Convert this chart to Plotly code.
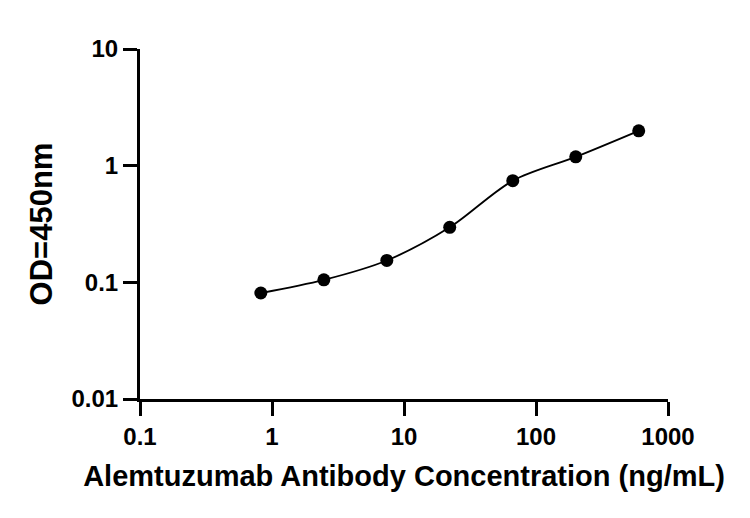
import plotly.graph_objects as go

# Concentration (ng/mL), 3-fold dilution series, and measured OD450
conc = [0.823, 2.47, 7.41, 22.2, 66.7, 200, 600]
od450 = [0.081, 0.105, 0.154, 0.296, 0.743, 1.19, 1.99]

x_ticks = [0.1, 1, 10, 100, 1000]
x_ticktext = ["0.1", "1", "10", "100", "1000"]
y_ticks = [0.01, 0.1, 1, 10]
y_ticktext = ["0.01", "0.1", "1", "10"]

FONT = "Liberation Sans, Arial, sans-serif"

fig = go.Figure()

# fitted curve (smooth line through the points)
fig.add_trace(go.Scatter(x=conc, y=od450, mode="lines",
                         line=dict(color="black", width=1.8, shape="spline", smoothing=0.9),
                         hoverinfo="skip"))
# data points
fig.add_trace(go.Scatter(x=conc, y=od450, mode="markers",
                         marker=dict(color="black", size=13)))

axis_common = dict(
    showline=True, linecolor="black", linewidth=3,
    ticks="outside", ticklen=14, tickwidth=3, tickcolor="black",
    showgrid=False, zeroline=False, automargin=False,
    tickfont=dict(family=FONT, size=24, color="black", weight="bold"),
)

fig.update_xaxes(type="log", range=[-1, 3], tickvals=x_ticks, ticktext=x_ticktext,
                 title=dict(text="Alemtuzumab Antibody Concentration (ng/mL)",
                            font=dict(family=FONT, size=29, color="black", weight="bold"),
                            standoff=17),
                 **axis_common)
fig.update_yaxes(type="log", range=[-2, 1], tickvals=y_ticks, ticktext=y_ticktext,
                 title=dict(text="OD=450nm",
                            font=dict(family=FONT, size=31, color="black", weight="bold"),
                            standoff=10),
                 **axis_common)

# page body adds an 8px offset, so the figure is sized 8px smaller
fig.update_layout(
    width=742, height=510,
    margin=dict(l=132, r=82, t=41, b=119),
    plot_bgcolor="white", paper_bgcolor="white",
    showlegend=False,
)

fig.write_html("out.html")
